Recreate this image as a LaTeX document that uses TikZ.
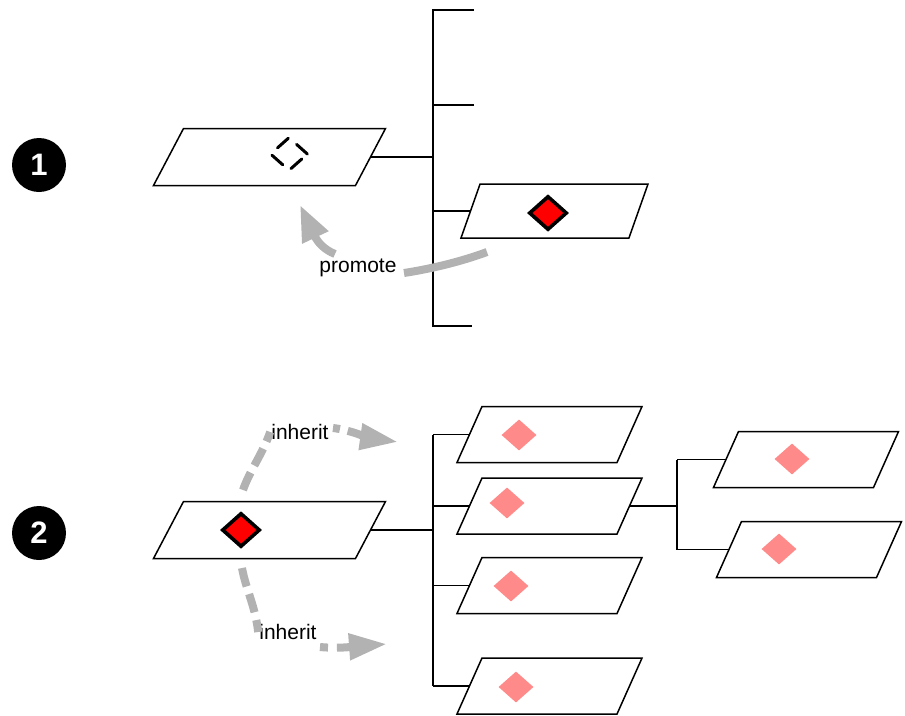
\documentclass[tikz,border=0pt]{standalone}
\usepackage{fontspec}
\setmainfont{Liberation Sans}
\usetikzlibrary{arrows.meta,shapes.geometric}
\definecolor{arrowgray}{HTML}{B2B2B2}
\definecolor{palered}{HTML}{FF8A8A}
\tikzstyle{plane}=[trapezium, draw, trapezium stretches=true, inner sep=1pt, outer sep=0pt, line width=1.5pt]
\tikzstyle{planeA}=[plane, trapezium left angle=80.1, trapezium right angle=99.9, minimum width=232pt, minimum height=57pt]
\tikzstyle{planeB}=[plane, trapezium left angle=79.5, trapezium right angle=100.5, minimum width=185pt, minimum height=56pt]
\tikzstyle{planeC}=[plane, trapezium left angle=82.7, trapezium right angle=97.3, minimum width=187pt, minimum height=54pt]
\tikzstyle{glyph}=[diamond, inner sep=0pt, minimum width=38pt, minimum height=34pt]
\tikzstyle{redglyph}=[glyph, draw=black, fill=red, line width=3.6pt]
\tikzstyle{paleglyph}=[glyph, fill=palered, minimum width=35pt, minimum height=31pt]
\tikzstyle{ghostglyph}=[glyph, draw=black, line width=3pt, line cap=round, dash pattern=on 14.5pt off 11pt]
\tikzstyle{stepnum}=[circle, fill=black, text=white, minimum size=54pt, inner sep=0pt, font=\fontsize{31}{31}\selectfont\bfseries]
\tikzstyle{lbl}=[inner sep=1pt, font=\fontsize{21}{25}\selectfont]
\tikzstyle{flow}=[draw=arrowgray, line width=8pt, dash pattern=on 19pt off 8pt]
\tikzstyle{tree}=[line width=1.5pt]

\begin{document}
\begin{tikzpicture}[x=1pt,y=-1pt]
\useasboundingbox (0,0) rectangle (905,715);
% step 1
\node[stepnum] (n1) at (39,165) {1};
\node[planeA] (p1) at (269.5,157) {};
\node[planeC] (p2) at (554.5,211) {};
\node[ghostglyph] (m1) at (289,154) {};
\node[redglyph] (m2) at (548,213) {};
\coordinate (a1) at (433,10);
\coordinate (a2) at (433,326);
\coordinate (a3) at (474,10);
\coordinate (a4) at (474,105);
\coordinate (a5) at (472,326);
\draw[tree] (a3) -- (a1) -- (a2) -- (a5);
\draw[tree] (a4) -- (a4 -| a1);
\draw[tree] (p1.east) -- (p1.east -| a1);
\draw[tree] (p2.west) -- (p2.west -| a1);
\node[lbl] (promote) at (358,268) {promote};
\coordinate (b1) at (487,252);
\coordinate (b2) at (300,205);
\coordinate (b3) at (335,254);
\coordinate (b4) at (404,273);
\draw[draw=arrowgray, line width=8pt] (b1) .. controls (460,262) and (430,269) .. (b4);
\draw[draw=arrowgray, line width=8pt, -{Triangle[length=36pt,width=27pt]}] (b3) .. controls (325,250) and (318,243) .. (b2);

% step 2
\node[stepnum] (n2) at (39,533) {2};
\node[planeA] (p3) at (269.5,530) {};
\node[planeB] (p4) at (549.5,434.5) {};
\node[planeB] (p5) at (549.5,506) {};
\node[planeB] (p6) at (549.5,585.5) {};
\node[planeB] (p7) at (549.5,686) {};
\node[planeB] (p8) at (806,459.5) {};
\node[planeB] (p9) at (809,549.5) {};
\node[redglyph] (m3) at (241,530) {};
\node[paleglyph] (m4) at (519,435) {};
\node[paleglyph] (m5) at (507,503) {};
\node[paleglyph] (m6) at (511,586) {};
\node[paleglyph] (m7) at (516,687) {};
\node[paleglyph] (m8) at (792,459) {};
\node[paleglyph] (m9) at (779,549) {};
\coordinate (c1) at (433,530);
\coordinate (c2) at (677,505);
\draw[tree] (p4.west -| c1) -- (p7.west -| c1);
\draw[tree] (p3.east) -- (p3.east -| c1);
\foreach \pl in {p4,p5,p6,p7}
  \draw[tree] (\pl.west) -- (\pl.west -| c1);
\draw[tree] (p8.west -| c2) -- (p9.west -| c2);
\draw[tree] (p5.east) -- (p5.east -| c2);
\draw[tree] (p8.west) -- (p8.west -| c2);
\draw[tree] (p9.west) -- (p9.west -| c2);
\node[lbl] (inh1) at (300,432) {inherit};
\node[lbl] (inh2) at (288,632) {inherit};
\coordinate (d1) at (243,490);
\coordinate (d2) at (398,442);
\coordinate (d3) at (242,568);
\coordinate (d4) at (387,644);
\coordinate (d5) at (333,428);
\coordinate (d6) at (320,647);
\draw[flow] (d1) .. controls (250,470) and (262,455) .. (inh1.west);
\draw[flow, -{Triangle[length=38pt,width=25pt]}, dash pattern=on 7pt off 8pt on 60pt] (d5) .. controls (350,430) and (370,438) .. (d2);
\draw[flow] (d3) .. controls (246,590) and (255,605) .. (inh2.west);
\draw[flow, -{Triangle[length=38pt,width=25pt]}, dash pattern=on 8pt off 9pt on 60pt] (d6) .. controls (340,649) and (360,646) .. (d4);
\end{tikzpicture}
\end{document}
